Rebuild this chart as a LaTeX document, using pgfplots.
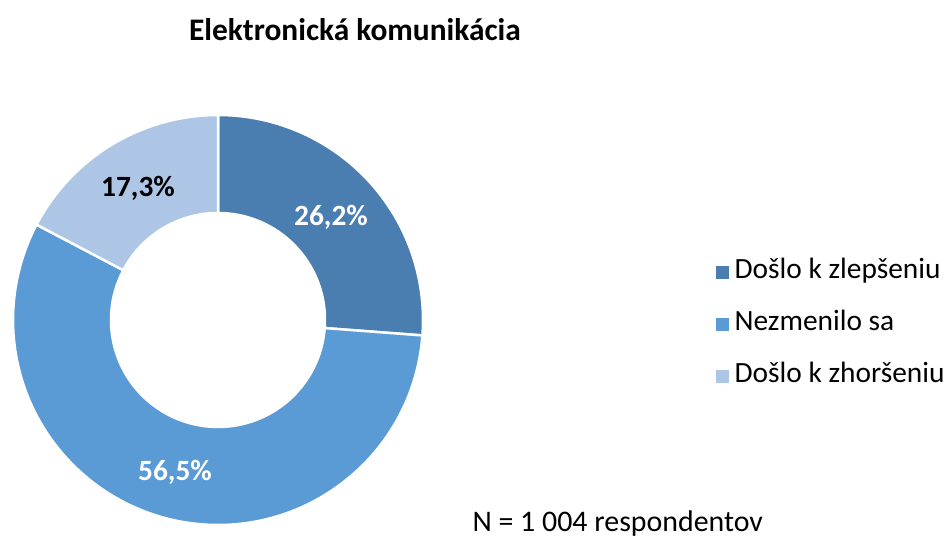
\documentclass[border=0pt]{standalone}
\usepackage{pgfplots}
\pgfplotsset{compat=1.18}
\usepackage{fontspec}
\setmainfont{Carlito}
\definecolor{c1}{HTML}{4A7EB0}
\definecolor{c2}{HTML}{5B9BD5}
\definecolor{c3}{HTML}{ADC6E6}
% #1 = cumulative start (percent), #2 = value (percent), #3 = colour
\newcommand\donutseg[3]{%
  \fill[#3,draw=white,line width=2.5bp]
    ([shift={({90-3.6*(#1)}:205bp)}]axis cs:218,219)
    arc[start angle={90-3.6*(#1)}, end angle={90-3.6*(#1+#2)}, radius=205bp]
    -- ([shift={({90-3.6*(#1+#2)}:107bp)}]axis cs:218,219)
    arc[start angle={90-3.6*(#1+#2)}, end angle={90-3.6*(#1)}, radius=107bp]
    -- cycle;}
\begin{document}
\begin{tikzpicture}
\begin{axis}[
  width=947bp, height=539bp, scale only axis,
  xmin=0, xmax=947, ymin=0, ymax=539,
  hide axis, clip=false,
  legend cell align=left,
  legend style={at={(axis cs:716,277)}, anchor=north west, draw=none, fill=none,
    inner sep=0pt, row sep=31bp, column sep=6bp,
    font=\fontsize{29.5}{33}\selectfont,
    nodes={inner sep=0pt, text height=16bp, text depth=5bp}},
]
\addlegendimage{legend image code/.code={\fill[c1] (0bp,-6bp) rectangle (12bp,6bp);}}
\addlegendentry{Došlo k zlepšeniu}
\addlegendimage{legend image code/.code={\fill[c2] (0bp,-6bp) rectangle (12bp,6bp);}}
\addlegendentry{Nezmenilo sa}
\addlegendimage{legend image code/.code={\fill[c3] (0bp,-6bp) rectangle (12bp,6bp);}}
\addlegendentry{Došlo k zhoršeniu}
% values: 26.2, 56.5, 17.3
\donutseg{0}{26.2}{c1}
\donutseg{26.2}{56.5}{c2}
\donutseg{82.7}{17.3}{c3}
\node[font=\bfseries\fontsize{29.5}{33}\selectfont, text=white] at (axis cs:331,322) {26,2\%};
\node[font=\bfseries\fontsize{29.5}{33}\selectfont, text=white] at (axis cs:175,67) {56,5\%};
\node[font=\bfseries\fontsize{29.5}{33}\selectfont, text=black] at (axis cs:138,351) {17,3\%};
\node[font=\bfseries\fontsize{31.5}{35}\selectfont] at (axis cs:355,509) {Elektronická komunikácia};
\node[font=\fontsize{30}{34}\selectfont, anchor=base west] at (axis cs:469,8) {N = 1 004 respondentov};
\end{axis}
\pgfresetboundingbox
\useasboundingbox (0,0) rectangle (947bp,539bp);
\end{tikzpicture}
\end{document}
